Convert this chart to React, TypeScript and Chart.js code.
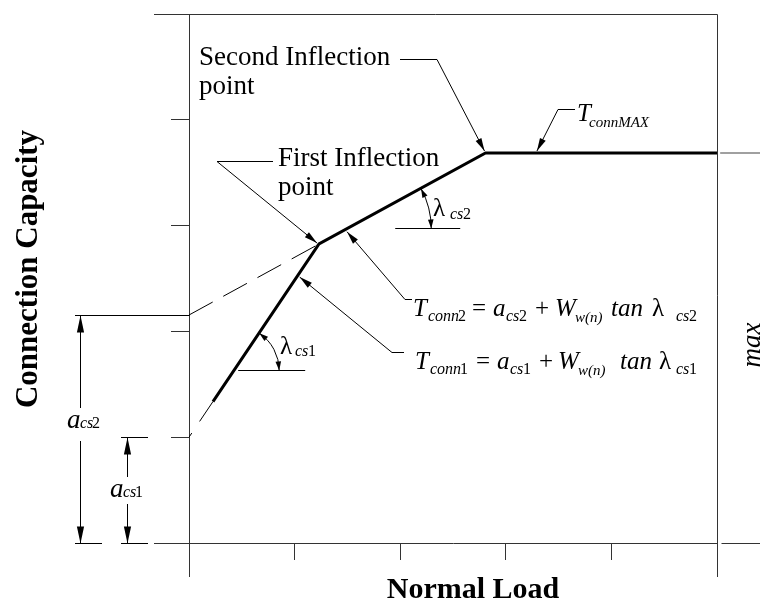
import React, { useEffect, useRef } from "react";
import { Chart, registerables } from "chart.js";

Chart.register(...registerables);

// ---------------- data (schematic units) ----------------
const axisMin = 0;
const axisMax = 5;
const tickStep = 1;

// thin lead-in of the first branch, starting at a_cs1 on the capacity axis
const leadInLoad = [0, 0.227];
const leadInCapacity = [1.0, 1.337];

// bold capacity envelope: first branch, second branch, T_connMAX plateau
const envelopeLoad = [0.227, 1.231, 2.808, 5.0];
const envelopeCapacity = [1.337, 2.826, 3.686, 3.686];

// dashed extension of the second branch back to a_cs2
const extensionLoad = [0, 1.231];
const extensionCapacity = [2.155, 2.826];

// grey continuation of the plateau outside the frame
const tailLoad = [5.03, 5.6];
const tailCapacity = [3.686, 3.686];

const acs1Value = 1.0;
const acs2Value = 2.155;

// ---------------- drawing helpers ----------------
const SERIF = '"Liberation Serif", "Times New Roman", serif';

type Part = { t: string; x: number; size: number; italic?: boolean; dy?: number };

function font(size: number, italic = false, bold = false) {
  return `${italic ? "italic " : ""}${bold ? "bold " : ""}${size}px ${SERIF}`;
}

function drawParts(ctx: CanvasRenderingContext2D, baseline: number, parts: Part[]) {
  for (const p of parts) {
    ctx.font = font(p.size, !!p.italic);
    ctx.fillText(p.t, p.x, baseline + (p.dy || 0));
  }
}

function arrowHead(ctx: CanvasRenderingContext2D, tx: number, ty: number, fx: number, fy: number, len = 13, half = 3.2) {
  const a = Math.atan2(ty - fy, tx - fx);
  const bx = tx - len * Math.cos(a);
  const by = ty - len * Math.sin(a);
  ctx.beginPath();
  ctx.moveTo(tx, ty);
  ctx.lineTo(bx + half * Math.sin(a), by - half * Math.cos(a));
  ctx.lineTo(bx - half * Math.sin(a), by + half * Math.cos(a));
  ctx.closePath();
  ctx.fill();
}

function leader(ctx: CanvasRenderingContext2D, pts: number[][], tip: number[]) {
  ctx.beginPath();
  ctx.moveTo(pts[0][0], pts[0][1]);
  for (let i = 1; i < pts.length; i++) ctx.lineTo(pts[i][0], pts[i][1]);
  ctx.lineTo(tip[0], tip[1]);
  ctx.stroke();
  const last = pts[pts.length - 1];
  arrowHead(ctx, tip[0], tip[1], last[0], last[1]);
}

function line(ctx: CanvasRenderingContext2D, x1: number, y1: number, x2: number, y2: number) {
  ctx.beginPath();
  ctx.moveTo(x1, y1);
  ctx.lineTo(x2, y2);
  ctx.stroke();
}

function angleArc(ctx: CanvasRenderingContext2D, cx: number, cy: number, r: number, a0: number, a1: number) {
  ctx.beginPath();
  ctx.arc(cx, cy, r, a0, a1);
  ctx.stroke();
  const len = 9;
  const d = len / r;
  arrowHead(ctx, cx + r * Math.cos(a0), cy + r * Math.sin(a0), cx + r * Math.cos(a0 + d), cy + r * Math.sin(a0 + d), len, 2.8);
  arrowHead(ctx, cx + r * Math.cos(a1), cy + r * Math.sin(a1), cx + r * Math.cos(a1 - d), cy + r * Math.sin(a1 - d), len, 2.8);
}

function envelopeAt(load: number) {
  for (let i = 0; i < envelopeLoad.length - 1; i++) {
    const x0 = envelopeLoad[i], x1 = envelopeLoad[i + 1];
    if (load >= x0 && load <= x1) {
      const t = (load - x0) / (x1 - x0);
      return envelopeCapacity[i] + t * (envelopeCapacity[i + 1] - envelopeCapacity[i]);
    }
  }
  return envelopeCapacity[envelopeCapacity.length - 1];
}

function loadOnSegment(i: number, capacity: number) {
  const t = (capacity - envelopeCapacity[i]) / (envelopeCapacity[i + 1] - envelopeCapacity[i]);
  return envelopeLoad[i] + t * (envelopeLoad[i + 1] - envelopeLoad[i]);
}

const annotations = {
  id: "annotations",
  afterDraw(chart: any) {
    const ctx: CanvasRenderingContext2D = chart.ctx;
    const xs = chart.scales.x;
    const ys = chart.scales.y;
    const X = (v: number) => xs.getPixelForValue(v);
    const Y = (v: number) => ys.getPixelForValue(v);
    const L = Math.round(X(axisMin)) + 0.5;
    const R = Math.round(X(axisMax)) + 0.5;
    const T = Math.round(Y(axisMax)) + 0.5;
    const B = Math.round(Y(axisMin)) + 0.5;

    ctx.save();
    ctx.lineCap = "butt";

    // frame extensions
    ctx.strokeStyle = "#333";
    ctx.lineWidth = 1;
    line(ctx, 154, T, R, T);
    line(ctx, R, T, R, 577);
    line(ctx, L, B, L, 577);
    line(ctx, 154, B, L, B);
    line(ctx, R + 4, B, 760, B);

    // dimension lines a_cs1, a_cs2
    ctx.strokeStyle = "#000";
    ctx.fillStyle = "#000";
    const y2 = Math.round(Y(acs2Value)) + 0.5;
    const y1 = Math.round(Y(acs1Value)) + 0.5;
    line(ctx, 75, y2, L, y2);
    line(ctx, 121, y1, 148, y1);
    line(ctx, 75, B, 102, B);
    line(ctx, 121, B, 148, B);
    const dx2 = 80.5;
    const dx1 = 127.5;
    line(ctx, dx2, y2, dx2, 408);
    line(ctx, dx2, 441, dx2, B);
    arrowHead(ctx, dx2, y2, dx2, y2 + 20, 17, 3.6);
    arrowHead(ctx, dx2, B, dx2, B - 20, 17, 3.6);
    line(ctx, dx1, y1, dx1, 477);
    line(ctx, dx1, 504, dx1, B);
    arrowHead(ctx, dx1, y1, dx1, y1 + 20, 17, 3.6);
    arrowHead(ctx, dx1, B, dx1, B - 20, 17, 3.6);

    ctx.textAlign = "left";
    ctx.textBaseline = "alphabetic";
    drawParts(ctx, 428, [
      { t: "a", x: 67, size: 27, italic: true },
      { t: "cs", x: 80, size: 16, italic: true },
      { t: "2", x: 92, size: 16 },
    ]);
    drawParts(ctx, 497, [
      { t: "a", x: 110, size: 27, italic: true },
      { t: "cs", x: 123, size: 16, italic: true },
      { t: "1", x: 135, size: 16 },
    ]);

    // inflection point markers
    const p1x = X(envelopeLoad[1]), p1y = Y(envelopeCapacity[1]);
    const p2x = X(envelopeLoad[2]), p2y = Y(envelopeCapacity[2]);

    ctx.lineWidth = 1;
    leader(ctx, [[400, 59.5], [437, 59.5]], [p2x - 1, p2y - 2]);
    leader(ctx, [[273, 161.5], [217, 161.5]], [p1x - 2, p1y - 1]);
    const maxLoad = 3.295;
    leader(ctx, [[575, 109.5], [558, 109.5]], [X(maxLoad), Y(envelopeAt(maxLoad)) - 2]);
    const eq2Load = 1.496;
    leader(ctx, [[412, 299.5], [405, 299.5]], [X(eq2Load), Y(envelopeAt(eq2Load)) + 3]);
    const eq1Load = 1.02;
    leader(ctx, [[404, 352.5], [392, 352.5]], [X(eq1Load) + 3, Y(envelopeAt(eq1Load))]);

    // angle arcs
    const a1 = Math.atan2(p1y - Y(envelopeCapacity[0]), p1x - X(envelopeLoad[0]));
    const ref1 = 1.635;
    const c1x = X(loadOnSegment(0, ref1));
    const c1y = Math.round(Y(ref1)) + 0.5;
    line(ctx, c1x + 4, c1y, c1x + 71, c1y);
    angleArc(ctx, c1x, c1y, 45, a1, 0);

    const a2 = Math.atan2(p2y - p1y, p2x - p1x);
    const ref2 = 2.977;
    const c2x = X(loadOnSegment(1, ref2));
    const c2y = Math.round(Y(ref2)) + 0.5;
    line(ctx, c2x + 47, c2y, c2x + 112, c2y);
    angleArc(ctx, c2x, c2y, 83, a2, 0);

    // labels
    ctx.font = font(27);
    ctx.fillText("Second Inflection", 199, 65);
    ctx.fillText("point", 199, 94);
    ctx.fillText("First Inflection", 278, 166);
    ctx.fillText("point", 278, 195);

    drawParts(ctx, 121, [
      { t: "T", x: 577, size: 25, italic: true },
      { t: "connMAX", x: 589, size: 15, italic: true, dy: 6 },
    ]);
    drawParts(ctx, 216, [
      { t: "λ", x: 433, size: 25 },
      { t: "cs", x: 450, size: 16, italic: true, dy: 3 },
      { t: "2", x: 463, size: 16, dy: 3 },
    ]);
    drawParts(ctx, 354, [
      { t: "λ", x: 280, size: 25 },
      { t: "cs", x: 295, size: 16, italic: true, dy: 2 },
      { t: "1", x: 308, size: 16, dy: 2 },
    ]);

    // equations
    drawParts(ctx, 316, [
      { t: "T", x: 413, size: 25, italic: true },
      { t: "conn", x: 428, size: 16, italic: true, dy: 5 },
      { t: "2", x: 458, size: 16, dy: 5 },
      { t: "=", x: 472, size: 25 },
      { t: "a", x: 493, size: 25, italic: true },
      { t: "cs", x: 506, size: 16, italic: true, dy: 5 },
      { t: "2", x: 519, size: 16, dy: 5 },
      { t: "+", x: 535, size: 25 },
      { t: "W", x: 555, size: 25, italic: true },
      { t: "w(n)", x: 575, size: 15, italic: true, dy: 6 },
      { t: "tan", x: 611, size: 25, italic: true },
      { t: "λ", x: 652, size: 25 },
      { t: "cs", x: 676, size: 16, italic: true, dy: 5 },
      { t: "2", x: 689, size: 16, dy: 5 },
    ]);
    drawParts(ctx, 369, [
      { t: "T", x: 415, size: 25, italic: true },
      { t: "conn", x: 430, size: 16, italic: true, dy: 5 },
      { t: "1", x: 460, size: 16, dy: 5 },
      { t: "=", x: 476, size: 25 },
      { t: "a", x: 497, size: 25, italic: true },
      { t: "cs", x: 510, size: 16, italic: true, dy: 5 },
      { t: "1", x: 523, size: 16, dy: 5 },
      { t: "+", x: 539, size: 25 },
      { t: "W", x: 558, size: 25, italic: true },
      { t: "w(n)", x: 578, size: 15, italic: true, dy: 6 },
      { t: "tan", x: 620, size: 25, italic: true },
      { t: "λ", x: 659, size: 25 },
      { t: "cs", x: 676, size: 16, italic: true, dy: 5 },
      { t: "1", x: 689, size: 16, dy: 5 },
    ]);

    // axis titles
    ctx.font = font(30, false, true);
    ctx.textAlign = "center";
    ctx.fillText("Normal Load", 473, 598);
    ctx.save();
    ctx.font = font(31, false, true);
    ctx.translate(37, 269);
    ctx.rotate(-Math.PI / 2);
    ctx.fillText("Connection Capacity", 0, 0);
    ctx.restore();

    ctx.save();
    ctx.font = font(27, true);
    ctx.translate(760, 345);
    ctx.rotate(-Math.PI / 2);
    ctx.fillText("max", 0, 0);
    ctx.restore();

    ctx.restore();
  },
};

export default function App() {
  const ref = useRef<HTMLCanvasElement>(null);
  useEffect(() => {
    const canvas = ref.current!;
    const pts = (xv: number[], yv: number[]) => xv.map((x, i) => ({ x, y: yv[i] }));
    const chart = new Chart(canvas, {
      type: "scatter",
      data: {
        datasets: [
          {
            label: "lead-in",
            data: pts(leadInLoad, leadInCapacity),
            showLine: true,
            borderColor: "#000",
            borderWidth: 1,
            borderDash: [5, 14, 30, 0],
            pointRadius: 0,
          },
          {
            label: "capacity",
            data: pts(envelopeLoad, envelopeCapacity),
            showLine: true,
            borderColor: "#000",
            borderWidth: 3,
            borderJoinStyle: "miter",
            pointRadius: 0,
          },
          {
            label: "extension",
            data: pts(extensionLoad, extensionCapacity),
            showLine: true,
            borderColor: "#000",
            borderWidth: 1,
            borderDash: [27, 12],
            pointRadius: 0,
          },
          {
            label: "tail",
            data: pts(tailLoad, tailCapacity),
            showLine: true,
            borderColor: "#808080",
            borderWidth: 1.5,
            pointRadius: 0,
            clip: false,
          },
        ],
      } as any,
      options: {
        animation: false,
        responsive: false,
        devicePixelRatio: 1,
        layout: { padding: { left: 171, right: 43, top: 14, bottom: 40 } },
        plugins: { legend: { display: false }, tooltip: { enabled: false } },
        scales: {
          x: {
            type: "linear",
            min: axisMin,
            max: axisMax,
            ticks: { display: false, stepSize: tickStep },
            grid: { drawOnChartArea: false, drawTicks: true, tickLength: 17, color: "#333", lineWidth: 1 },
            border: { display: true, color: "#333", width: 1 },
          },
          y: {
            type: "linear",
            min: axisMin,
            max: axisMax,
            ticks: { display: false, stepSize: tickStep },
            grid: { drawOnChartArea: false, drawTicks: true, tickLength: 18, color: "#333", lineWidth: 1 },
            border: { display: true, color: "#333", width: 1 },
          },
        },
      } as any,
      plugins: [annotations],
    });
    return () => chart.destroy();
  }, []);
  return (
    <div style={{ position: "fixed", left: 0, top: 0, width: 760, height: 600, background: "#fff" }}>
      <canvas ref={ref} width={760} height={600} style={{ display: "block", width: 760, height: 600 }} />
    </div>
  );
}
